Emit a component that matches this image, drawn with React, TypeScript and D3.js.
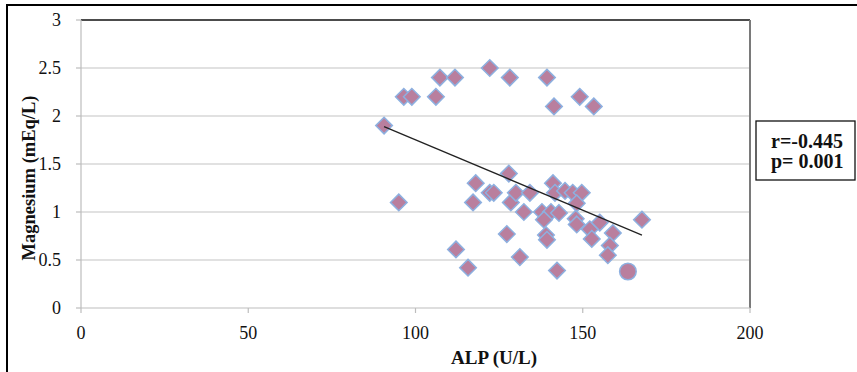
import * as d3 from "d3"

// ALP (U/L) vs Magnesium (mEq/L)
const alp = [
  96.5, 98.9, 106.1, 107.3, 111.8, 122.2, 128.2, 139.3, 141.4, 149.1, 153.3, 90.6,
  95.0, 118.0, 117.2, 122.2, 123.4, 127.9, 128.5, 130.0, 134.2, 132.4, 127.3, 112.1,
  115.7, 131.2, 141.1, 141.7, 144.7, 147.0, 149.7, 148.2, 137.8, 140.5, 142.9, 138.4,
  147.9, 148.2, 152.1, 155.1, 159.0, 167.7, 139.0, 139.3, 152.7, 158.1, 157.5, 142.3,
]
const magnesium = [
  2.2, 2.2, 2.2, 2.4, 2.4, 2.5, 2.4, 2.4, 2.1, 2.2, 2.1, 1.9,
  1.1, 1.3, 1.1, 1.2, 1.2, 1.4, 1.1, 1.2, 1.2, 1.0, 0.77, 0.61,
  0.42, 0.53, 1.3, 1.2, 1.22, 1.2, 1.2, 1.09, 1.0, 1.0, 0.99, 0.92,
  0.93, 0.87, 0.82, 0.89, 0.78, 0.92, 0.76, 0.71, 0.72, 0.65, 0.55, 0.39,
]
// the one point drawn as a circle
const circleAlp = [163.5]
const circleMg = [0.38]

// linear trendline ends
const trendAlp = [90.6, 167.7]
const trendMg = [1.89, 0.76]

const xTicks = [0, 50, 100, 150, 200]
const yTicks = [0, 0.5, 1, 1.5, 2, 2.5, 3]
const statLines = ["r=-0.445", "p= 0.001"]

const W = 857
const H = 372
const serif = "'Liberation Serif', 'Times New Roman', serif"

export default function App() {
  const x = d3.scaleLinear().domain([0, 200]).range([81, 750])
  const y = d3.scaleLinear().domain([0, 3]).range([308, 20])

  const points = alp.map((a, i) => ({ a, m: magnesium[i] }))
  const diamond = (cx: number, cy: number, r: number) =>
    `M${cx},${cy - r}L${cx + r},${cy}L${cx},${cy + r}L${cx - r},${cy}Z`

  const trend = d3
    .line<number>()
    .x((d) => x(d))
    .y((_, i) => y(trendMg[i]))(trendAlp)

  const fill = "#B97F9E"
  const stroke = "#8DB0E0"

  return (
    <svg
      width={W}
      height={H}
      style={{ position: "absolute", left: 0, top: 0, background: "#fff" }}
      fontFamily={serif}
    >
      {/* chart border */}
      <rect x={7} y={5} width={900} height={420} fill="none" stroke="#000" strokeWidth={2} />

      {/* gridlines */}
      {yTicks.slice(1, -1).map((t) => (
        <line key={t} x1={x(0)} x2={x(200)} y1={y(t)} y2={y(t)} stroke="#C4C4C4" strokeWidth={1.2} />
      ))}

      {/* plot frame */}
      <line x1={x(0)} x2={x(200)} y1={y(3)} y2={y(3)} stroke="#111" strokeWidth={1.3} />
      <line x1={x(200)} x2={x(200)} y1={y(3)} y2={y(0)} stroke="#7A7A7A" strokeWidth={2} />
      <line x1={x(0)} x2={x(0)} y1={y(3)} y2={y(0)} stroke="#BDBDBD" strokeWidth={1.2} />
      <line x1={x(0)} x2={x(200)} y1={y(0)} y2={y(0)} stroke="#BDBDBD" strokeWidth={1.2} />

      {/* y axis ticks and labels */}
      {yTicks.map((t) => (
        <g key={t}>
          <line x1={x(0) - 5} x2={x(0)} y1={y(t)} y2={y(t)} stroke="#BDBDBD" strokeWidth={1.2} />
          <text x={61} y={y(t)} dy="0.35em" textAnchor="end" fontSize={18} fill="#111">
            {t}
          </text>
        </g>
      ))}

      {/* x axis ticks and labels */}
      {xTicks.map((t) => (
        <g key={t}>
          <line x1={x(t)} x2={x(t)} y1={y(0)} y2={y(0) + 5} stroke="#BDBDBD" strokeWidth={1.2} />
          <text x={x(t)} y={339} textAnchor="middle" fontSize={18} fill="#111">
            {t}
          </text>
        </g>
      ))}

      {/* axis titles */}
      <text x={494} y={364} textAnchor="middle" fontSize={19} fontWeight="bold" fill="#111">
        ALP (U/L)
      </text>
      <text
        transform="translate(29,178) rotate(-90)"
        dy="0.35em"
        textAnchor="middle"
        fontSize={18.5}
        fontWeight="bold"
        fill="#111"
      >
        Magnesium (mEq/L)
      </text>

      {/* markers */}
      {points.map((p, i) => (
        <path key={i} d={diamond(x(p.a), y(p.m), 8.3)} fill={fill} stroke={stroke} strokeWidth={1.5} />
      ))}
      {circleAlp.map((a, i) => (
        <circle key={i} cx={x(a)} cy={y(circleMg[i])} r={8.3} fill={fill} stroke={stroke} strokeWidth={1.5} />
      ))}

      {/* trendline */}
      <path d={trend ?? ""} fill="none" stroke="#222" strokeWidth={1.3} />

      {/* stats box */}
      <rect x={756} y={121} width={99} height={59} fill="#fff" stroke="#111" strokeWidth={1.3} />
      {statLines.map((s, i) => (
        <text key={s} x={771} y={148 + i * 20} fontSize={20} fontWeight="bold" fill="#111">
          {s}
        </text>
      ))}
    </svg>
  )
}
